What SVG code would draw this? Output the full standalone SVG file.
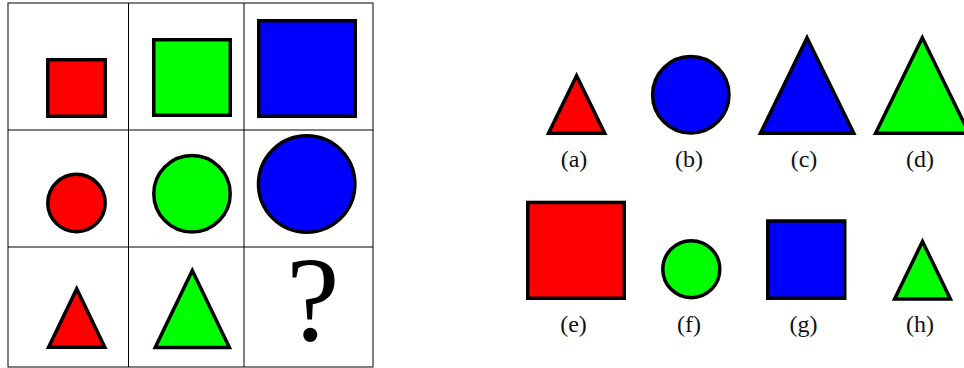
<svg xmlns="http://www.w3.org/2000/svg" width="964" height="368" viewBox="0 0 964 368">
  <style>
    .shape { stroke: #000; stroke-width: 3.5; stroke-linejoin: miter; stroke-miterlimit: 10; }
    .red { fill: #ff0000; }
    .green { fill: #00ff00; }
    .blue { fill: #0000ff; }
    .grid { stroke: #000; stroke-width: 1; fill: none; }
    .lbl { font-family: "Liberation Serif", "DejaVu Serif", serif; font-size: 24px; fill: #111; text-anchor: middle; }
    .q { font-family: "Liberation Serif", "DejaVu Serif", serif; font-size: 120px; fill: #000; text-anchor: middle; }
  </style>
  <rect width="964" height="368" fill="#fff"/>
  <g id="grid" class="grid">
    <rect x="8" y="3" width="365" height="364"/>
    <line x1="128.5" y1="3" x2="128.5" y2="367"/>
    <line x1="244" y1="3" x2="244" y2="367"/>
    <line x1="8" y1="130" x2="373" y2="130"/>
    <line x1="8" y1="247" x2="373" y2="247"/>
  </g>
  <g id="connectors"></g>
  <g id="cell-r1c1"><rect class="shape red" x="47.75" y="59.75" width="57.5" height="56.5"/></g>
  <g id="cell-r1c2"><rect class="shape green" x="153.75" y="39.75" width="76.5" height="75.5"/></g>
  <g id="cell-r1c3"><rect class="shape blue" x="258.75" y="20.75" width="96.5" height="95.5"/></g>
  <g id="cell-r2c1"><circle class="shape red" cx="76.5" cy="203" r="28.7"/></g>
  <g id="cell-r2c2"><circle class="shape green" cx="192" cy="193.7" r="38.2"/></g>
  <g id="cell-r2c3"><circle class="shape blue" cx="306.7" cy="184" r="48.2"/></g>
  <g id="cell-r3c1"><polygon class="shape red" points="76.7,288.7 104.8,347.25 48.6,347.25"/></g>
  <g id="cell-r3c2"><polygon class="shape green" points="192.3,270.5 229.4,347.5 155.2,347.5"/></g>
  <g id="cell-r3c3"><text class="q" x="313" y="340">?</text></g>

  <g id="option-a">
    <polygon class="shape red" points="576.6,75.7 604.7,133.25 548.5,133.25"/>
    <text class="lbl" x="574" y="166.5">(a)</text>
  </g>
  <g id="option-b">
    <circle class="shape blue" cx="690.8" cy="94.7" r="38.2"/>
    <text class="lbl" x="689" y="166.5">(b)</text>
  </g>
  <g id="option-c">
    <polygon class="shape blue" points="807,37.8 853.8,133.25 760.4,133.25"/>
    <text class="lbl" x="804" y="166.5">(c)</text>
  </g>
  <g id="option-d">
    <polygon class="shape green" points="922.3,37.8 969,133.25 875.6,133.25"/>
    <text class="lbl" x="920" y="166.5">(d)</text>
  </g>
  <g id="option-e">
    <rect class="shape red" x="527.75" y="202.45" width="96.5" height="95.8"/>
    <text class="lbl" x="573.5" y="331.5">(e)</text>
  </g>
  <g id="option-f">
    <circle class="shape green" cx="691.3" cy="269.2" r="28.5"/>
    <text class="lbl" x="689" y="331.5">(f)</text>
  </g>
  <g id="option-g">
    <rect class="shape blue" x="767.75" y="221" width="77" height="77.2"/>
    <text class="lbl" x="803.5" y="331.5">(g)</text>
  </g>
  <g id="option-h">
    <polygon class="shape green" points="922.5,241.4 950.4,299 894.6,299"/>
    <text class="lbl" x="920" y="331.5">(h)</text>
  </g>
</svg>
